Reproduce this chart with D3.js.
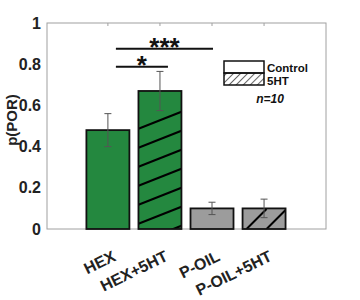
<!DOCTYPE html>
<html>
<head>
<meta charset="utf-8">
<script src="https://cdn.jsdelivr.net/npm/d3@7"></script>
<style>
  body { margin: 0; background: #fff; }
  text { font-family: "Liberation Sans", Arial, sans-serif; font-weight: bold; }
</style>
</head>
<body>
<div id="chart"></div>
<script>
// data
const categories = ["HEX", "HEX+5HT", "P-OIL", "P-OIL+5HT"];
const means = [0.48, 0.67, 0.10, 0.10];
const errors = [0.08, 0.095, 0.03, 0.045];
const fills = ["#24883f", "#24883f", "#9c9c9c", "#9c9c9c"];
const hatched = [false, true, false, true];
const yTicks = [0, 0.2, 0.4, 0.6, 0.8, 1];
const sigPairs = [[0, 1, 0.788, "*"], [0, 2, 0.875, "***"]];

const W = 360, H = 300;
const margin = {top: 23, right: 34, bottom: 71, left: 47};
const width = W - margin.left - margin.right;
const height = H - margin.top - margin.bottom;

const svg = d3.select("#chart").append("svg")
  .attr("width", W)
  .attr("height", H);
const g = svg.append("g")
  .attr("transform", `translate(${margin.left},${margin.top})`);

// x positions (matlab style: categories at 1..4)
const x = d3.scaleLinear().domain([-0.17, 5.19]).range([0, width]);
const y = d3.scaleLinear().domain([0, 1]).range([height, 0]);
const barW = 43;

// box
g.append("rect")
  .attr("width", width).attr("height", height)
  .attr("fill", "none").attr("stroke", "#a0a0a0").attr("stroke-width", 1);

// top ticks
g.selectAll(".ttick").data(categories).enter().append("line")
  .attr("x1", (d, i) => x(i + 1)).attr("x2", (d, i) => x(i + 1))
  .attr("y1", 0).attr("y2", 3)
  .attr("stroke", "#a0a0a0");

// y axis
const yAxis = d3.axisLeft(y).tickValues(yTicks).tickSize(0).tickPadding(6)
  .tickFormat(d => d === 0 || d === 1 ? d3.format("d")(d) : d3.format(".1f")(d));
g.append("g").call(yAxis)
  .call(a => a.select(".domain").remove())
  .selectAll("text")
  .style("font-size", "16px").attr("fill", "#222");

// y label
svg.append("text")
  .attr("transform", `translate(17, ${margin.top + y(0.5) - 6}) rotate(-90)`)
  .attr("text-anchor", "middle")
  .style("font-size", "15px").attr("fill", "#222")
  .text("p(POR)");

// x labels
g.selectAll(".xlab").data(categories).enter().append("text")
  .attr("transform", (d, i) => `translate(${x(i + 1) + 9}, ${height + 31}) rotate(-26)`)
  .attr("text-anchor", "end")
  .style("font-size", "16px").attr("fill", "#222")
  .text(d => d);

// bars
const defs = svg.append("defs");
const bars = g.selectAll(".bar").data(means).enter().append("g");
means.forEach((v, i) => {
  defs.append("clipPath").attr("id", "clip" + i)
    .append("rect")
    .attr("x", margin.left + x(i + 1) - barW / 2)
    .attr("y", margin.top + y(v))
    .attr("width", barW)
    .attr("height", y(0) - y(v));
});
bars.append("rect")
  .attr("x", (d, i) => x(i + 1) - barW / 2)
  .attr("y", d => y(d))
  .attr("width", barW)
  .attr("height", d => y(0) - y(d))
  .attr("fill", (d, i) => fills[i]);

// hatching (slope and spacing per bar, in px)
const hatchStyle = {1: {rise: 17, gap: 19, start: 13.7, n: 7}, 3: {rise: 20, gap: 20, start: -2, n: 3}};
bars.each(function(d, i) {
  if (!hatched[i]) return;
  const hs = hatchStyle[i];
  const x0 = x(i + 1) - barW / 2, x1 = x0 + barW;
  const lines = [];
  if (i === 1) {
    for (let k = 0; k < hs.n; k++) {
      const yl = y(0) + hs.start - hs.gap * k;
      lines.push([x0, yl, x1, yl - hs.rise]);
    }
  } else {
    for (let k = 0; k < hs.n; k++) {
      const xb = x0 + 4 + hs.gap * k;
      lines.push([xb, y(0), xb + hs.rise, y(0) - hs.rise]);
    }
  }
  const hg = d3.select(this).append("g")
    .attr("clip-path", `url(#clip${i})`)
    .attr("transform", `translate(${-margin.left},${-margin.top})`);
  hg.selectAll("line").data(lines).enter().append("line")
    .attr("x1", l => l[0] + margin.left).attr("y1", l => l[1] + margin.top)
    .attr("x2", l => l[2] + margin.left).attr("y2", l => l[3] + margin.top)
    .attr("stroke", "#000").attr("stroke-width", 2);
});

bars.append("rect")
  .attr("x", (d, i) => x(i + 1) - barW / 2)
  .attr("y", d => y(d))
  .attr("width", barW)
  .attr("height", d => y(0) - y(d))
  .attr("fill", "none")
  .attr("stroke", "#111").attr("stroke-width", 1.8);

// error bars
const eb = g.selectAll(".err").data(means).enter().append("g")
  .attr("stroke", "#555").attr("stroke-width", 1);
eb.append("line")
  .attr("x1", (d, i) => x(i + 1)).attr("x2", (d, i) => x(i + 1))
  .attr("y1", (d, i) => y(d + errors[i])).attr("y2", (d, i) => y(d - errors[i]));
eb.append("line")
  .attr("x1", (d, i) => x(i + 1) - 3.5).attr("x2", (d, i) => x(i + 1) + 3.5)
  .attr("y1", (d, i) => y(d + errors[i])).attr("y2", (d, i) => y(d + errors[i]));
eb.append("line")
  .attr("x1", (d, i) => x(i + 1) - 3.5).attr("x2", (d, i) => x(i + 1) + 3.5)
  .attr("y1", (d, i) => y(d - errors[i])).attr("y2", (d, i) => y(d - errors[i]));

// significance
sigPairs.forEach(([a, b, lvl, star]) => {
  const xa = x(a + 1) + 8, xb = x(b + 1) + (b === 1 ? 8 : 1);
  g.append("line")
    .attr("x1", xa).attr("x2", xb)
    .attr("y1", y(lvl)).attr("y2", y(lvl))
    .attr("stroke", "#111").attr("stroke-width", 2);
  g.append("text")
    .attr("x", (xa + xb) / 2)
    .attr("y", y(lvl) + 7)
    .attr("text-anchor", "middle")
    .style("font-size", "26px").attr("fill", "#111")
    .text(star);
});

// legend
const lg = svg.append("g").attr("transform", "translate(224,61)");
defs.append("pattern").attr("id", "legHatch")
  .attr("patternUnits", "userSpaceOnUse").attr("width", 5).attr("height", 5)
  .attr("patternTransform", "rotate(45)")
  .append("line").attr("x1", 0).attr("y1", 0).attr("x2", 0).attr("y2", 5)
  .attr("stroke", "#000").attr("stroke-width", 1.2);
lg.append("rect").attr("width", 40).attr("height", 12)
  .attr("fill", "#fff").attr("stroke", "#111").attr("stroke-width", 1.5);
lg.append("rect").attr("y", 12).attr("width", 40).attr("height", 12)
  .attr("fill", "url(#legHatch)").attr("stroke", "#111").attr("stroke-width", 1.5);
lg.append("text").attr("x", 43).attr("y", 11)
  .style("font-size", "11.5px").attr("fill", "#111").text("Control");
lg.append("text").attr("x", 43).attr("y", 23.5)
  .style("font-size", "11.5px").attr("fill", "#111").text("5HT");
lg.append("text").attr("x", 46).attr("y", 42)
  .attr("text-anchor", "middle")
  .style("font-size", "12px").style("font-style", "italic").attr("fill", "#111")
  .text("n=10");
</script>
</body>
</html>
